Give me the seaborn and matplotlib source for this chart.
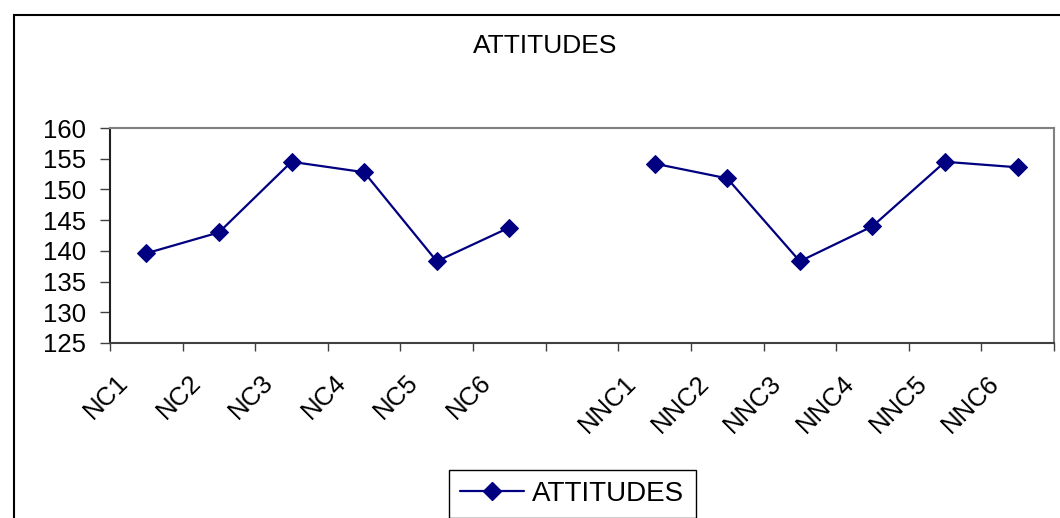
import numpy as np
import pandas as pd
import seaborn as sns
import matplotlib.pyplot as plt
from matplotlib.patches import Rectangle
from matplotlib.lines import Line2D
from matplotlib.transforms import ScaledTranslation

# chart data (blank category keeps the gap between the two groups)
categories = ["NC1", "NC2", "NC3", "NC4", "NC5", "NC6", "",
              "NNC1", "NNC2", "NNC3", "NNC4", "NNC5", "NNC6"]
groups = ["NC"] * 7 + ["NNC"] * 6
attitudes = [139.6, 143.0, 154.5, 152.8, 138.3, 143.8, np.nan,
             154.2, 151.8, 138.3, 144.0, 154.5, 153.6]
y_ticks = [125, 130, 135, 140, 145, 150, 155, 160]

NAVY = "#000080"


def main():
    sns.set_style("white")
    plt.rcParams["font.family"] = ["Liberation Sans", "DejaVu Sans"]
    plt.rcParams["text.color"] = "black"

    df = pd.DataFrame({
        "pos": np.arange(len(categories)),
        "group": groups,
        "ATTITUDES": attitudes,
    })

    fig = plt.figure(figsize=(10.6, 5.18), dpi=100)
    ax = fig.add_axes([110 / 1060, 1 - 343 / 518, 944 / 1060, 215 / 518])

    # separate units so the line breaks at the empty category
    sns.lineplot(
        data=df, x="pos", y="ATTITUDES", units="group", estimator=None,
        color=NAVY, marker="D", markersize=9, markeredgecolor=NAVY,
        linewidth=1.6, legend=False, ax=ax,
    )

    ax.set_xlim(-0.5, len(categories) - 0.5)
    ax.set_ylim(125, 160)
    ax.set_yticks(y_ticks)
    ax.set_xticks(df["pos"])
    ax.set_xticklabels(categories, rotation=45, ha="right", va="center",
                       rotation_mode="anchor", fontsize=18.5)
    ax.set_xticks(np.arange(len(categories) + 1) - 0.5, minor=True)
    ax.tick_params(axis="x", which="major", length=0, pad=26,
                   labelcolor="black")
    ax.tick_params(axis="x", which="minor", length=6, width=1,
                   color="#404040", bottom=True)
    ax.tick_params(axis="y", length=7, width=1, pad=10, labelsize=18.5,
                   left=True, color="#404040", labelcolor="black")
    shift = ScaledTranslation(-22 / 100, 0, fig.dpi_scale_trans)
    for lbl in ax.get_xticklabels():
        lbl.set_transform(lbl.get_transform() + shift)
    ax.set_xlabel("")
    ax.set_ylabel("")

    for side in ["top", "right"]:
        ax.spines[side].set_color("#808080")
        ax.spines[side].set_linewidth(1.5)
    ax.spines["left"].set_color("#202020")
    ax.spines["bottom"].set_color("#404040")
    ax.spines["left"].set_linewidth(1.5)
    ax.spines["bottom"].set_linewidth(1.5)

    fig.text(545 / 1060, 1 - 46 / 518, "ATTITUDES", ha="center",
             va="center", fontsize=19, color="black")

    # outer chart border, runs past the right and bottom edges
    fig.patches.append(Rectangle((14 / 1060, -0.1), 1.2, 1.1 - 15 / 518,
                                 transform=fig.transFigure, fill=False,
                                 edgecolor="black", linewidth=1.5))

    handle = Line2D([], [], color=NAVY, marker="D", markersize=9,
                    markeredgecolor=NAVY, linewidth=1.6)
    leg = fig.legend(
        handles=[handle], labels=["ATTITUDES"], loc="upper left",
        bbox_to_anchor=(449 / 1060, 1 - 470 / 518),
        bbox_transform=fig.transFigure, borderaxespad=0, fontsize=20,
        frameon=True, fancybox=False, edgecolor="black", framealpha=1,
        borderpad=0.4, handlelength=2.3, handletextpad=0.3,
    )
    leg.get_frame().set_linewidth(1)
    for t in leg.get_texts():
        t.set_color("black")

    fig.savefig("out.png", dpi=100)


if __name__ == "__main__":
    main()
